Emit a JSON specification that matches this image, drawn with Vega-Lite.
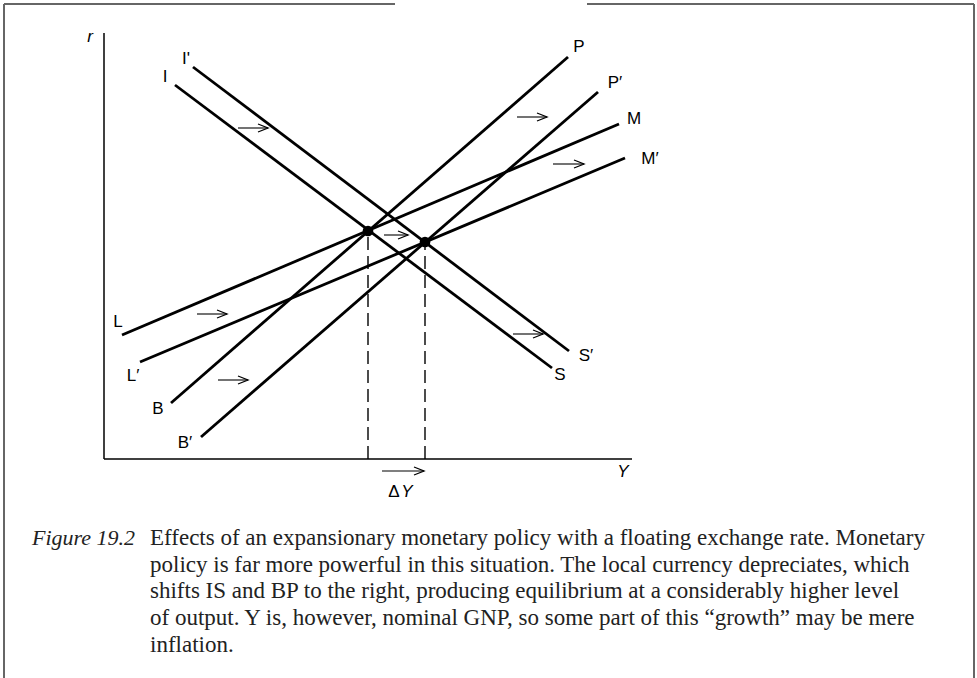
{
  "$schema": "https://vega.github.io/schema/vega-lite/v6.json",
  "width": 977,
  "height": 678,
  "padding": 0,
  "autosize": {"type": "none"},
  "background": "white",
  "config": {"view": {"stroke": null}},
  "datasets": {
    "segments": [
      {"kind": "curve", "name": "IS", "x": 71, "y": 374, "x2": 448, "y2": 91},
      {"kind": "curve", "name": "I'S'", "x": 89, "y": 392, "x2": 465, "y2": 108},
      {"kind": "curve", "name": "BP", "x": 67, "y": 56, "x2": 464, "y2": 402},
      {"kind": "curve", "name": "B'P'", "x": 97, "y": 22, "x2": 494, "y2": 367},
      {"kind": "curve", "name": "LM", "x": 18, "y": 124, "x2": 515, "y2": 335},
      {"kind": "curve", "name": "L'M'", "x": 36, "y": 97, "x2": 521, "y2": 301},
      {"kind": "axis", "name": "r axis", "x": 0, "y": 0, "x2": 0, "y2": 426},
      {"kind": "axis", "name": "Y axis", "x": 0, "y": 0, "x2": 528, "y2": 0},
      {"kind": "dash", "name": "Y1", "x": 264, "y": 0, "x2": 264, "y2": 228},
      {"kind": "dash", "name": "Y2", "x": 321, "y": 0, "x2": 321, "y2": 217},
      {"kind": "border", "name": "left", "x": -100, "y": -219, "x2": -100, "y2": 455},
      {"kind": "border", "name": "right", "x": 870, "y": -219, "x2": 870, "y2": 455},
      {"kind": "border", "name": "top-left", "x": -100, "y": 455, "x2": 291, "y2": 455},
      {"kind": "border", "name": "top-right", "x": 483, "y": 455, "x2": 870, "y2": 455}
    ],
    "arrows": [
      {"x": 134, "x2": 164, "y": 331},
      {"x": 413, "x2": 443, "y": 342},
      {"x": 449, "x2": 480, "y": 295},
      {"x": 93, "x2": 123, "y": 145},
      {"x": 114, "x2": 144, "y": 79},
      {"x": 280, "x2": 304, "y": 224},
      {"x": 409, "x2": 439, "y": 125},
      {"x": 278, "x2": 320, "y": -12}
    ],
    "equilibria": [
      {"x": 264, "y": 228},
      {"x": 321, "y": 217}
    ],
    "labels": [
      {"label": "I", "x": 61, "y": 382, "italic": false},
      {"label": "I'", "x": 82, "y": 400, "italic": false},
      {"label": "P", "x": 475, "y": 412, "italic": false},
      {"label": "P′", "x": 511, "y": 376, "italic": false},
      {"label": "M", "x": 530, "y": 340, "italic": false},
      {"label": "M′", "x": 546, "y": 300, "italic": false},
      {"label": "L", "x": 14, "y": 137, "italic": false},
      {"label": "L′", "x": 29, "y": 83, "italic": false},
      {"label": "B", "x": 54, "y": 50, "italic": false},
      {"label": "B′", "x": 81, "y": 16, "italic": false},
      {"label": "S", "x": 456, "y": 84, "italic": false},
      {"label": "S′", "x": 482, "y": 103, "italic": false},
      {"label": "Δ", "x": 290, "y": -33, "italic": false},
      {"label": "Y", "x": 303, "y": -33, "italic": true},
      {"label": "r", "x": -14, "y": 422, "italic": true},
      {"label": "Y", "x": 519, "y": -13, "italic": true}
    ],
    "caption": [
      {"text": "Figure 19.2", "x": -72, "y": -86, "italic": true},
      {"text": "Effects of an expansionary monetary policy with a floating exchange rate. Monetary", "x": 46, "y": -86, "italic": false},
      {"text": "policy is far more powerful in this situation. The local currency depreciates, which", "x": 46, "y": -113, "italic": false},
      {"text": "shifts IS and BP to the right, producing equilibrium at a considerably higher level", "x": 46, "y": -139, "italic": false},
      {"text": "of output. Y is, however, nominal GNP, so some part of this “growth” may be mere", "x": 46, "y": -166, "italic": false},
      {"text": "inflation.", "x": 46, "y": -193, "italic": false}
    ]
  },
  "encoding": {
    "x": {"field": "x", "type": "quantitative", "scale": {"domain": [-104, 873], "nice": false, "zero": false}, "axis": null},
    "y": {"field": "y", "type": "quantitative", "scale": {"domain": [-219, 459], "nice": false, "zero": false}, "axis": null}
  },
  "layer": [
    {
      "data": {"name": "segments"},
      "transform": [{"filter": "datum.kind === 'border'"}],
      "mark": {"type": "rule", "stroke": "#666666", "strokeWidth": 2},
      "encoding": {"x2": {"field": "x2"}, "y2": {"field": "y2"}}
    },
    {
      "data": {"name": "segments"},
      "transform": [{"filter": "datum.kind === 'axis'"}],
      "mark": {"type": "rule", "stroke": "black", "strokeWidth": 1.5},
      "encoding": {"x2": {"field": "x2"}, "y2": {"field": "y2"}}
    },
    {
      "data": {"name": "segments"},
      "transform": [{"filter": "datum.kind === 'dash'"}],
      "mark": {"type": "rule", "stroke": "black", "strokeWidth": 1.4, "strokeDash": [13, 6]},
      "encoding": {"x2": {"field": "x2"}, "y2": {"field": "y2"}}
    },
    {
      "data": {"name": "segments"},
      "transform": [{"filter": "datum.kind === 'curve'"}],
      "mark": {"type": "rule", "stroke": "black", "strokeWidth": 2.8, "strokeCap": "butt"},
      "encoding": {"x2": {"field": "x2"}, "y2": {"field": "y2"}}
    },
    {
      "data": {"name": "arrows"},
      "mark": {"type": "rule", "stroke": "black", "strokeWidth": 1.1},
      "encoding": {"x2": {"field": "x2"}}
    },
    {
      "data": {"name": "arrows"},
      "mark": {"type": "point", "shape": "M-1,-0.4L0,0L-1,0.4", "filled": false, "stroke": "black", "strokeWidth": 1.3, "size": 400, "opacity": 1},
      "encoding": {"x": {"field": "x2", "type": "quantitative"}}
    },
    {
      "data": {"name": "equilibria"},
      "mark": {"type": "circle", "color": "black", "size": 115, "opacity": 1}
    },
    {
      "data": {"name": "labels"},
      "transform": [{"filter": "!datum.italic"}],
      "mark": {"type": "text", "font": "Liberation Sans", "fontSize": 17, "align": "center", "baseline": "middle", "color": "black"},
      "encoding": {"text": {"field": "label"}}
    },
    {
      "data": {"name": "labels"},
      "transform": [{"filter": "datum.italic"}],
      "mark": {"type": "text", "font": "Liberation Sans", "fontSize": 17, "fontStyle": "italic", "align": "center", "baseline": "middle", "color": "black"},
      "encoding": {"text": {"field": "label"}}
    },
    {
      "data": {"name": "caption"},
      "transform": [{"filter": "datum.italic"}],
      "mark": {"type": "text", "font": "Liberation Serif", "fontSize": 22, "fontStyle": "italic", "align": "left", "baseline": "alphabetic", "color": "#222222"},
      "encoding": {"text": {"field": "text"}}
    },
    {
      "data": {"name": "caption"},
      "transform": [{"filter": "!datum.italic"}],
      "mark": {"type": "text", "font": "Liberation Serif", "fontSize": 23, "align": "left", "baseline": "alphabetic", "color": "#222222"},
      "encoding": {"text": {"field": "text"}}
    }
  ]
}
